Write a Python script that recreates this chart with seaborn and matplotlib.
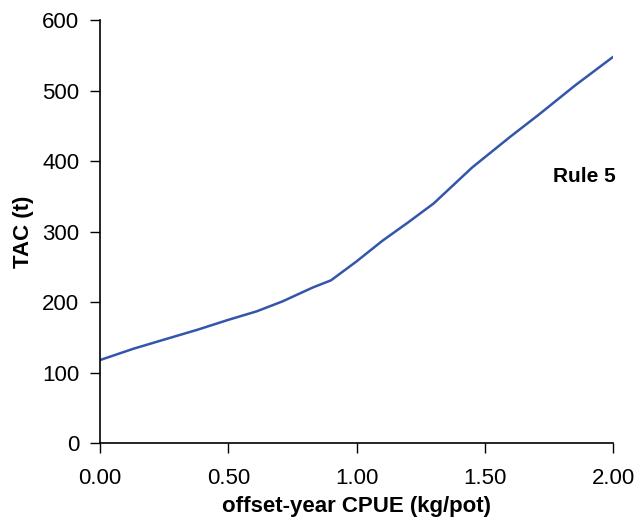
import matplotlib
matplotlib.use("Agg")
import matplotlib.pyplot as plt
import seaborn as sns
import pandas as pd
from matplotlib.ticker import FormatStrFormatter

cpue = [0.00, 0.13, 0.25, 0.38, 0.50, 0.61, 0.71, 0.83, 0.90, 1.00, 1.10, 1.20, 1.30, 1.45, 1.60, 1.71, 1.85, 2.00]
tac = [118, 134, 147, 161, 175, 187, 201, 221, 231, 258, 287, 313, 340, 391, 435, 466, 507, 548]

sns.set_style("ticks")
plt.rcParams['font.family'] = ['Liberation Sans', 'DejaVu Sans']
plt.rcParams['text.color'] = 'black'
plt.rcParams['axes.labelcolor'] = 'black'
plt.rcParams['xtick.color'] = 'black'
plt.rcParams['ytick.color'] = 'black'

fig = plt.figure(figsize=(6.35, 5.25), dpi=100)
ax = fig.add_axes([0.1575, 0.1556, 0.8085, 0.8064])

df = pd.DataFrame({"cpue": cpue, "tac": tac})
sns.lineplot(data=df, x="cpue", y="tac", ax=ax, color="#3355AA", linewidth=1.8, sort=False)

ax.set_xlim(0, 2.0)
ax.set_ylim(0, 600)
ax.set_xticks([0, 0.5, 1.0, 1.5, 2.0])
ax.set_yticks([0, 100, 200, 300, 400, 500, 600])
ax.xaxis.set_major_formatter(FormatStrFormatter('%.2f'))
ax.tick_params(axis='both', labelsize=16, length=7, width=1, colors='black', direction='out')
ax.tick_params(axis='y', pad=8)
ax.tick_params(axis='x', pad=11)
for s in ['top', 'right']:
    ax.spines[s].set_visible(False)
for s in ['left', 'bottom']:
    ax.spines[s].set_linewidth(1.2)
    ax.spines[s].set_color('black')

ax.set_xlabel("offset-year CPUE (kg/pot)", fontsize=16, fontweight='bold', labelpad=5)
ax.set_ylabel("TAC (t)", fontsize=16, fontweight='bold', labelpad=6)
ax.text(2.01, 378, "Rule 5", fontsize=15, fontweight='bold', ha='right', va='center')

fig.savefig("out.png", dpi=100)
